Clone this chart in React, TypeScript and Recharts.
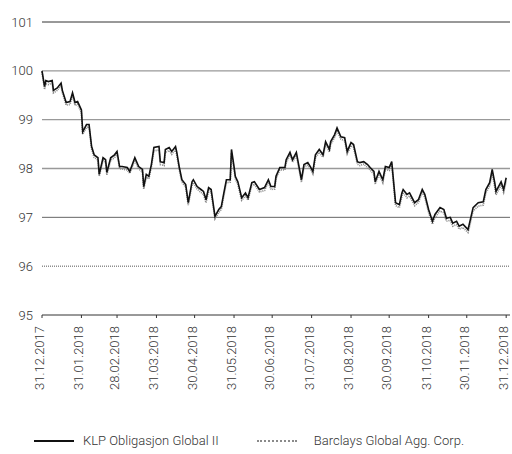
import { LineChart, Line, XAxis, YAxis, ReferenceLine } from "recharts";

// day index from 31.12.2017
const days = [
  0, 2, 3, 5, 8, 9, 12, 15, 16, 19, 22, 24, 26, 28, 31, 32, 35, 37, 39, 41,
  44, 45, 48, 50, 51, 54, 57, 59, 61, 63, 67, 69, 73, 76, 79, 80, 82, 84, 86, 88,
  92, 93, 96, 97, 100, 102, 105, 106, 108, 110, 113, 115, 118, 119, 122, 125, 127, 129, 131, 133,
  136, 139, 141, 143, 145, 148, 149, 151, 152, 154, 157, 160, 162, 165, 167, 171, 175, 178, 180, 183,
  184, 187, 191, 192, 195, 197, 200, 204, 206, 209, 211, 213, 215, 218, 221, 223, 226, 227, 230, 232,
  235, 238, 240, 243, 245, 248, 250, 253, 256, 258, 261, 262, 265, 268, 270, 273, 275, 278, 281, 283,
  284, 287, 289, 293, 296, 299, 301, 304, 307, 309, 313, 316, 318, 321, 323, 326, 328, 331, 335, 336,
  339, 343, 347, 349, 352, 354, 356, 357, 361, 363, 365,
];

const klp = [
  100.0, 99.68, 99.8, 99.78, 99.8, 99.6, 99.65, 99.75, 99.6, 99.35,
  99.37, 99.55, 99.35, 99.37, 99.2, 98.75, 98.9, 98.9, 98.45, 98.28,
  98.22, 97.88, 98.22, 98.18, 97.92, 98.22, 98.28, 98.35, 98.04, 98.04,
  98.02, 97.94, 98.22, 98.04, 97.98, 97.63, 97.88, 97.84, 98.08, 98.43,
  98.45, 98.14, 98.12, 98.39, 98.43, 98.35, 98.45, 98.33, 98.02, 97.77,
  97.67, 97.3, 97.73, 97.77, 97.63, 97.57, 97.53, 97.36, 97.61, 97.57,
  97.02, 97.16, 97.22, 97.5, 97.77, 97.77, 98.39, 98.04, 97.84, 97.73,
  97.4, 97.5, 97.4, 97.71, 97.73, 97.57, 97.61, 97.77, 97.63, 97.63,
  97.84, 98.02, 98.02, 98.18, 98.33, 98.18, 98.33, 97.77, 98.08, 98.12,
  98.04, 97.94, 98.28, 98.39, 98.28, 98.55, 98.39, 98.55, 98.69, 98.83,
  98.65, 98.63, 98.35, 98.53, 98.49, 98.14, 98.12, 98.14, 98.08, 98.02,
  97.94, 97.73, 97.94, 97.77, 98.04, 98.02, 98.14, 97.3, 97.26, 97.5,
  97.57, 97.47, 97.5, 97.3, 97.36, 97.57, 97.47, 97.16, 96.92, 97.06,
  97.2, 97.16, 96.98, 97.0, 96.88, 96.92, 96.82, 96.86, 96.75, 96.86,
  97.2, 97.3, 97.32, 97.57, 97.71, 97.98, 97.71, 97.53, 97.73, 97.57,
  97.81,
];

const barclays = [
  99.98, 99.62, 99.74, 99.72, 99.75, 99.55, 99.6, 99.7, 99.55, 99.3,
  99.31, 99.5, 99.29, 99.32, 99.14, 98.7, 98.84, 98.85, 98.4, 98.23,
  98.17, 97.84, 98.17, 98.13, 97.87, 98.17, 98.22, 98.3, 98.0, 97.99,
  97.97, 97.9, 98.17, 97.99, 97.93, 97.58, 97.82, 97.79, 98.03, 98.36,
  98.38, 98.08, 98.06, 98.33, 98.37, 98.29, 98.39, 98.27, 97.97, 97.72,
  97.62, 97.25, 97.67, 97.71, 97.58, 97.51, 97.47, 97.3, 97.55, 97.51,
  96.97, 97.1, 97.16, 97.44, 97.71, 97.72, 98.32, 97.98, 97.79, 97.67,
  97.35, 97.44, 97.35, 97.65, 97.68, 97.52, 97.55, 97.72, 97.57, 97.58,
  97.79, 97.97, 97.97, 98.12, 98.28, 98.13, 98.27, 97.72, 98.03, 98.07,
  97.99, 97.89, 98.22, 98.33, 98.23, 98.49, 98.34, 98.49, 98.63, 98.77,
  98.6, 98.57, 98.3, 98.47, 98.43, 98.09, 98.06, 98.09, 98.02, 97.97,
  97.88, 97.68, 97.88, 97.71, 97.98, 97.96, 98.08, 97.24, 97.2, 97.43,
  97.51, 97.4, 97.44, 97.24, 97.3, 97.51, 97.41, 97.1, 96.86, 97.0,
  97.13, 97.09, 96.92, 96.94, 96.82, 96.85, 96.76, 96.79, 96.69, 96.79,
  97.13, 97.23, 97.25, 97.5, 97.64, 97.9, 97.62, 97.46, 97.66, 97.51,
  97.74,
];

const monthTicks = [0, 31, 59, 90, 120, 151, 181, 212, 243, 273, 304, 334, 365];
const monthLabels = [
  "31.12.2017", "31.01.2018", "28.02.2018", "31.03.2018", "30.04.2018", "31.05.2018",
  "30.06.2018", "31.07.2018", "31.08.2018", "30.09.2018", "31.10.2018", "30.11.2018",
  "31.12.2018",
];

const yTicks = [95, 96, 97, 98, 99, 100, 101];

const gridStyle: Record<number, { stroke: string; width: number; dash?: string }> = {
  95: { stroke: "#333", width: 1 },
  96: { stroke: "#555", width: 1, dash: "1 1" },
  97: { stroke: "#666", width: 1 },
  98: { stroke: "#999", width: 1.3 },
  99: { stroke: "#999", width: 1.3 },
  100: { stroke: "#999", width: 1.3 },
  101: { stroke: "#333", width: 1 },
};

const data = days.map((d, i) => ({ day: d, klp: klp[i], barclays: barclays[i] }));

const FONT = "Roboto, 'Liberation Sans', sans-serif";

const XTick = (props: any) => {
  const { x, y, payload } = props;
  const idx = monthTicks.indexOf(payload.value);
  return (
    <g transform={`translate(${x},${y})`}>
      <text
        transform="rotate(-90)"
        x={-6}
        y={2}
        textAnchor="end"
        fontSize={13}
        fontFamily={FONT}
        fontWeight={300}
        fill="#333"
      >
        {monthLabels[idx]}
      </text>
    </g>
  );
};

export default function App() {
  return (
    <div style={{ position: "absolute", left: 0, top: 0, width: 512, height: 454, background: "#fff" }}>
      <LineChart
        width={512}
        height={454}
        data={data}
        margin={{ top: 22, right: 2, left: 0, bottom: 59 }}
      >
        {yTicks.map((t) => (
          <ReferenceLine
            key={t}
            y={t}
            stroke={gridStyle[t].stroke}
            strokeWidth={gridStyle[t].width}
            strokeDasharray={gridStyle[t].dash}
          />
        ))}
        <XAxis
          dataKey="day"
          type="number"
          domain={[0, 368]}
          ticks={monthTicks}
          interval={0}
          axisLine={false}
          tickSize={3}
          tickLine={{ stroke: "#333" }}
          height={80}
          tick={<XTick />}
        />
        <YAxis
          domain={[95, 101]}
          ticks={yTicks}
          width={42}
          axisLine={false}
          tickLine={false}
          tickSize={0}
          tickMargin={9}
          tick={{ fontSize: 13, fill: "#333", fontFamily: FONT, fontWeight: 300 }}
        />
        <Line
          dataKey="barclays"
          stroke="#8a8a8a"
          strokeWidth={1.7}
          strokeDasharray="1 1"
          dot={false}
          isAnimationActive={false}
        />
        <Line
          dataKey="klp"
          stroke="#111"
          strokeWidth={1.6}
          dot={false}
          isAnimationActive={false}
        />
      </LineChart>
      <div
        style={{
          position: "absolute",
          top: 433,
          left: 0,
          width: 512,
          display: "flex",
          alignItems: "center",
          fontFamily: FONT,
          fontWeight: 300,
          fontSize: 13,
          color: "#333",
        }}
      >
        <span style={{ marginLeft: 34, width: 40, height: 0, borderTop: "2px solid #111" }} />
        <span style={{ marginLeft: 9 }}>KLP Obligasjon Global II</span>
        <span style={{ marginLeft: 38, width: 40, height: 0, borderTop: "2px dotted #8a8a8a" }} />
        <span style={{ marginLeft: 17 }}>Barclays Global Agg. Corp.</span>
      </div>
    </div>
  );
}
